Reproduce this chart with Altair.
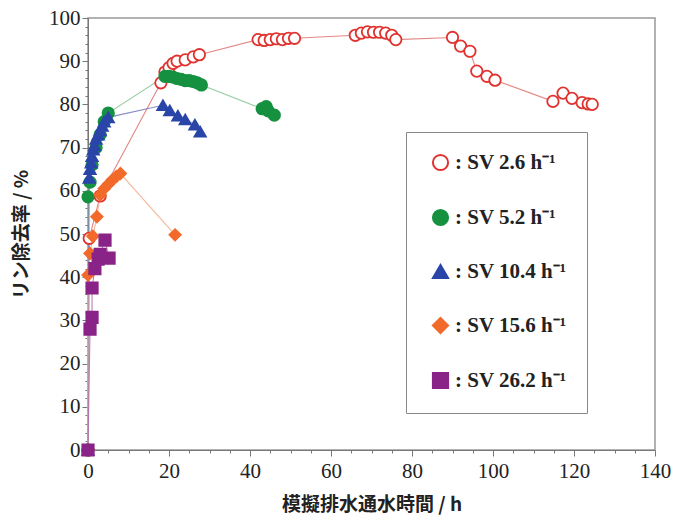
import altair as alt
import pandas as pd

series_names = ["SV 2.6 h⁻¹", "SV 5.2 h⁻¹", "SV 10.4 h⁻¹", "SV 15.6 h⁻¹", "SV 26.2 h⁻¹"]

sv26_x = [0, 0.3, 3, 18, 19, 20, 21, 22, 24, 26, 27.5, 42, 43.5, 45, 46.5, 48, 49.5, 51,
          66, 67.5, 69, 70.5, 72, 73.5, 75, 76, 90, 92, 94.3, 96, 98.5, 100.5,
          114.8, 117.3, 119.5, 122, 123.5, 124.5]
sv26_y = [0, 49, 58.8, 85, 87.5, 88.5, 89.5, 90, 90.3, 91, 91.5, 95, 94.8, 95, 95.2, 95, 95.3, 95.3,
          96, 96.5, 96.8, 96.7, 96.7, 96.5, 96, 95, 95.5, 93.5, 92.3, 87.7, 86.5, 85.6,
          80.7, 82.6, 81.4, 80.4, 80.1, 80]

sv52_x = [0, 0, 0.5, 1, 2, 3, 4, 5, 19, 20, 21, 22, 23, 24, 25, 26, 27, 28, 43, 44, 44.5, 46]
sv52_y = [0, 58.6, 62, 66, 70, 73, 76, 78, 86.5, 86.5, 86.3, 86, 85.8, 85.5, 85.5, 85.3, 85, 84.5,
          79, 79.5, 78.5, 77.5]

sv104_x = [0, 0.3, 0.5, 0.8, 1, 1.3, 1.6, 2, 2.5, 3, 3.5, 4, 5, 18.5, 20.2, 22.2, 24, 26.4, 27.7]
sv104_y = [0, 63, 65, 66.5, 68, 69.5, 70.5, 72, 73, 74, 75, 76, 77, 79.8, 78.6, 77.4, 76.5, 75.3, 73.7]

sv156_x = [0, 0, 0.5, 1.2, 2.2, 3, 4, 5, 6, 7, 8, 21.5]
sv156_y = [0, 40.5, 45.5, 49.5, 54, 59, 60.5, 61.5, 62.5, 63.3, 64, 49.8]

sv262_x = [0, 0.5, 1, 1, 1.7, 2.5, 3, 4.2, 5.2]
sv262_y = [0, 28, 30.7, 37.5, 42, 44.2, 45.3, 48.6, 44.4]

stroke_colors = ["#e0322e", "#159140", "#2a45a8", "#f26a2a", "#8a2388"]
fill_colors = ["#ffffff", "#159140", "#2a45a8", "#f26a2a", "#8a2388"]
line_colors = ["#e07a78", "#8cc79a", "#7a7fc0", "#f0b090", "#b070b0"]
shapes = ["circle", "circle", "triangle-up", "diamond", "square"]

x_ticks = list(range(0, 141, 5))
y_ticks = list(range(0, 101, 2))

rows = []
for name, xs, ys in zip(series_names,
                        [sv26_x, sv52_x, sv104_x, sv156_x, sv262_x],
                        [sv26_y, sv52_y, sv104_y, sv156_y, sv262_y]):
    for i, (xv, yv) in enumerate(zip(xs, ys)):
        rows.append({"series": name, "idx": i, "t": xv, "r": yv})
df = pd.DataFrame(rows)

xscale = alt.Scale(domain=[0, 140], nice=False, zero=True)
yscale = alt.Scale(domain=[0, 100], nice=False)

label_font = "Liberation Serif"
title_font = "Noto Sans CJK JP"

x_axis = alt.Axis(values=x_ticks, title="模擬排水通水時間 / h", orient="bottom",
                  labelExpr="datum.value % 20 === 0 ? datum.label : ''", labelOverlap=False,
                  labelFlush=False,
                  labelFont=label_font, labelFontSize=21, labelColor="#222",
                  titleFont=title_font, titleFontSize=19, titleFontWeight="bold",
                  titleColor="#222", titlePadding=14, labelPadding=4,
                  tickSize={"condition": {"test": "datum.value % 20 === 0", "value": 6}, "value": 3},
                  tickColor="#777", domainColor="#777", grid=False)
y_axis = alt.Axis(values=y_ticks, title="リン除去率 / %", orient="left",
                  labelExpr="datum.value % 10 === 0 ? datum.label : ''", labelOverlap=False,
                  labelFlush=False,
                  labelFont=label_font, labelFontSize=21, labelColor="#222",
                  titleFont=title_font, titleFontSize=19, titleFontWeight="bold",
                  titleColor="#222", titlePadding=17, labelPadding=2,
                  tickSize={"condition": {"test": "datum.value % 10 === 0", "value": 6}, "value": 3},
                  tickColor="#777", domainColor="#777", grid=False)

lines = alt.Chart(df).mark_line(strokeWidth=1.1, opacity=0.9).encode(
    x=alt.X("t:Q", scale=xscale, axis=x_axis),
    y=alt.Y("r:Q", scale=yscale, axis=y_axis),
    detail="series:N",
    order="idx:Q",
    color=alt.Color("series:N", scale=alt.Scale(domain=series_names, range=line_colors), legend=None),
)

legend = alt.Legend(title=None, orient="none", legendX=318, legendY=114,
                    labelExpr="': ' + datum.label", labelFont=label_font, labelFontSize=21,
                    labelFontWeight="bold", labelColor="#222", symbolSize=230, symbolStrokeWidth=2,
                    rowPadding=30, padding=20, strokeColor="#888", fillColor="white",
                    labelLimit=300, symbolOffset=4)

points = alt.Chart(df).mark_point(size=130, strokeWidth=1.8, opacity=1, filled=True).encode(
    x=alt.X("t:Q", scale=xscale, axis=x_axis),
    y=alt.Y("r:Q", scale=yscale, axis=y_axis),
    stroke=alt.Stroke("series:N", scale=alt.Scale(domain=series_names, range=stroke_colors), legend=legend),
    fill=alt.Fill("series:N", scale=alt.Scale(domain=series_names, range=fill_colors), legend=legend),
    shape=alt.Shape("series:N", scale=alt.Scale(domain=series_names, range=shapes), legend=legend),
)

chart = alt.layer(lines, points).resolve_scale(color="independent").properties(
    width=567, height=432,
    autosize=alt.AutoSizeParams(type="none"),
    padding={"left": 80, "top": 10, "right": 19, "bottom": 69},
).configure_view(stroke="#999", strokeWidth=1.5)

chart.save("out.html", embed_options={"renderer": "svg", "actions": False})
